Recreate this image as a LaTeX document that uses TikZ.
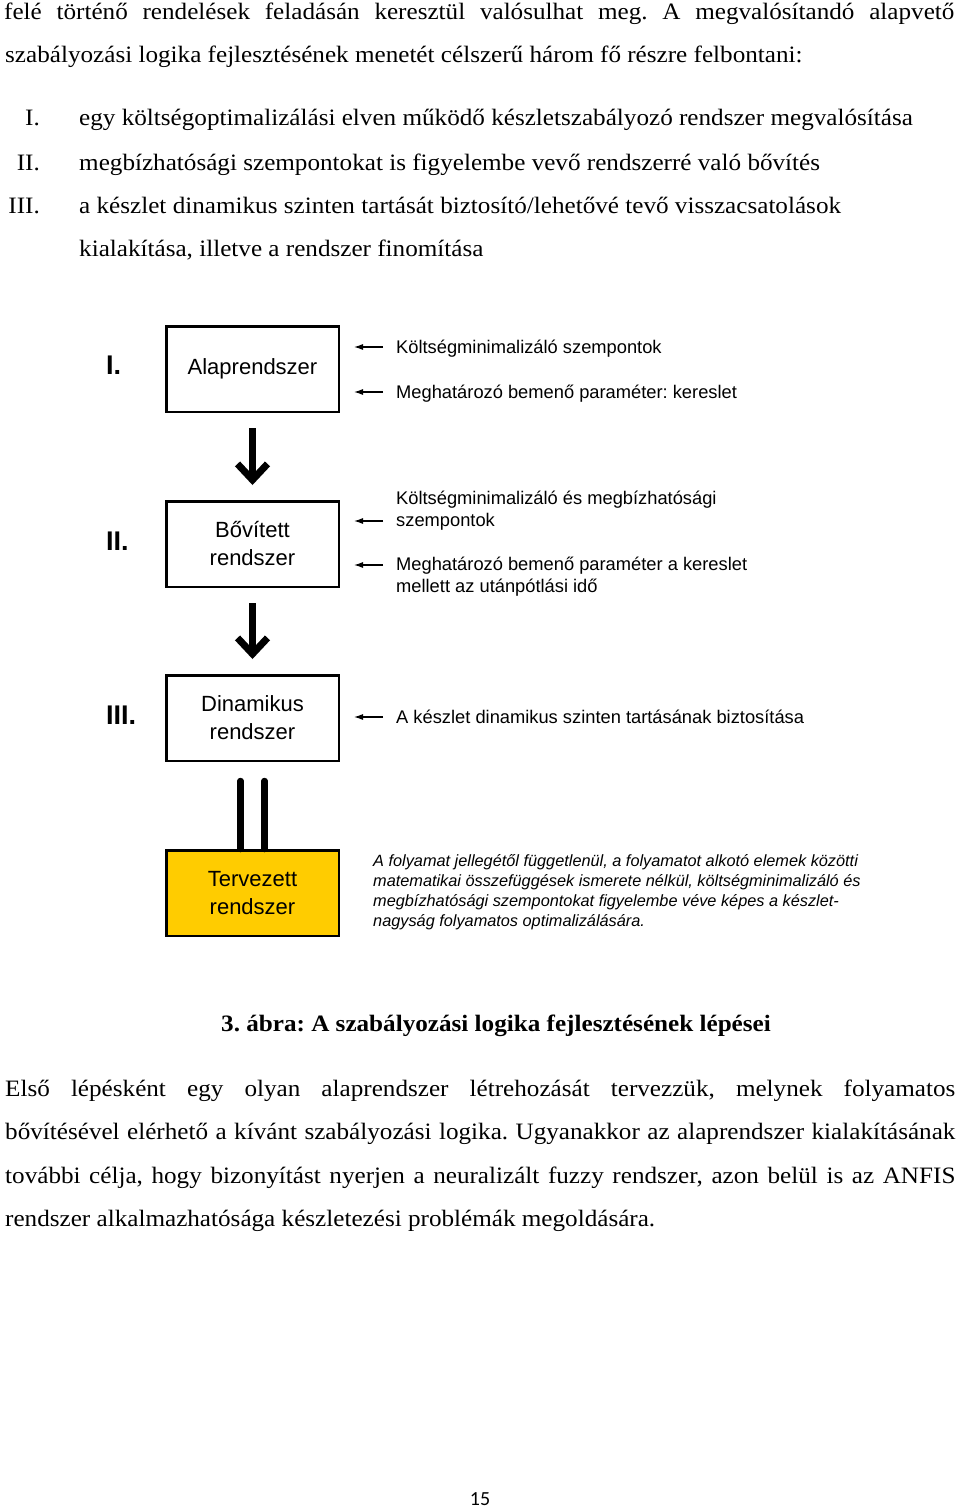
\documentclass[tikz,border=0pt]{standalone}
\usepackage{fontspec}
\setmainfont{Liberation Serif}
\newfontfamily\arialf{Liberation Sans}
\newfontfamily\calibrif{Carlito}
\usetikzlibrary{arrows.meta}
\definecolor{tyellow}{RGB}{255,204,0}
\newcommand{\hsc}[1]{\scalebox{1.07}[1]{#1}}
\newcommand{\jline}[1]{\scalebox{1.07}[1]{\makebox[888pt][s]{#1}}}
\frenchspacing
\begin{document}
\begin{tikzpicture}[x=1pt,y=-1pt,
  body/.style={anchor=base west, inner sep=0, font=\fontsize{23.5}{27}\selectfont},
  bodyr/.style={anchor=base east, inner sep=0, font=\fontsize{23.5}{27}\selectfont},
  box/.style={draw, line width=2.5pt, minimum width=172.5pt, minimum height=85.5pt, inner sep=0, align=center, font=\arialf\fontsize{22}{28}\selectfont},
  roman/.style={anchor=west, inner sep=0, font=\arialf\bfseries\fontsize{27}{30}\selectfont},
  lbl/.style={anchor=base west, inner sep=0, font=\arialf\fontsize{18.3}{22}\selectfont},
  itl/.style={anchor=base west, inner sep=0, font=\arialf\itshape\fontsize{16.3}{20}\selectfont},
  bigarrow/.style={line width=7pt, -{Straight Barb[length=16pt,width=30pt,line width=7pt]}, shorten <=15pt, shorten >=15pt},
  smallarrow/.style={line width=1.1pt, -{Latex[length=9pt,width=6pt]}},
  bar/.style={line width=6.5pt, line cap=round},
]
\useasboundingbox (0,0) rectangle (960,1509);
% top text
\node[body] (t1) at (4,20) {\jline{felé történő rendelések feladásán keresztül valósulhat meg. A megvalósítandó alapvető}};
\node[body] (t2) at (5,63) {\hsc{szabályozási logika fejlesztésének menetét célszerű három fő részre felbontani:}};
\node[bodyr] (n1) at (40,126) {\hsc{I.}};
\node[body] (l1) at (79,126) {\hsc{egy költségoptimalizálási elven működő készletszabályozó rendszer megvalósítása}};
\node[bodyr] (n2) at (40,170) {\hsc{II.}};
\node[body] (l2) at (79,170) {\hsc{megbízhatósági szempontokat is figyelembe vevő rendszerré való bővítés}};
\node[bodyr] (n3) at (40,213) {\hsc{III.}};
\node[body] (l3) at (79,213) {\hsc{a készlet dinamikus szinten tartását biztosító/lehetővé tevő visszacsatolások}};
\node[body] (l4) at (79,256) {\hsc{kialakítása, illetve a rendszer finomítása}};

% boxes
\node[box] (b1) at (252.5,369) {Alaprendszer};
\node[box] (b2) at (252.5,544) {Bővített\\rendszer};
\node[box] (b3) at (252.5,718) {Dinamikus\\rendszer};
\node[box, fill=tyellow] (b4) at (252.5,893) {Tervezett\\rendszer};

\node[roman] (r1) at (106,365) {I.};
\node[roman] (r2) at (106,541) {II.};
\node[roman] (r3) at (106,715) {III.};

\draw[bigarrow] (b1) -- (b2);
\draw[bigarrow] (b2) -- (b3);
\draw[bar] ([xshift=-12pt]b3.south) ++(0,19) coordinate (d1a) -- ([xshift=-12pt]b4.north) ++(0,-15) coordinate (d1b);
\draw[bar] ([xshift=12pt]b3.south) ++(0,19) coordinate (d2a) -- ([xshift=12pt]b4.north) ++(0,-15) coordinate (d2b);

% labels
\node[lbl] (k1) at (396,353) {Költségminimalizáló szempontok};
\node[lbl] (k2) at (396,398) {Meghatározó bemenő paraméter: kereslet};
\node[lbl] (k3) at (396,504) {Költségminimalizáló és megbízhatósági};
\node[lbl] (k3b) at (396,526) {szempontok};
\node[lbl] (k4) at (396,570) {Meghatározó bemenő paraméter a kereslet};
\node[lbl] (k4b) at (396,592) {mellett az utánpótlási idő};
\node[lbl] (k5) at (396,723) {A készlet dinamikus szinten tartásának biztosítása};

\coordinate (a1) at (383,347);
\coordinate (a2) at (383,392);
\coordinate (a3) at (383,521);
\coordinate (a4) at (383,565);
\coordinate (a5) at (383,717);
\draw[smallarrow] (a1) -- ([xshift=14pt]a1 -| b1.east);
\draw[smallarrow] (a2) -- ([xshift=14pt]a2 -| b1.east);
\draw[smallarrow] (a3) -- ([xshift=14pt]a3 -| b2.east);
\draw[smallarrow] (a4) -- ([xshift=14pt]a4 -| b2.east);
\draw[smallarrow] (a5) -- ([xshift=14pt]a5 -| b3.east);

\node[itl] (i1) at (373,866.5) {A folyamat jellegétől függetlenül, a folyamatot alkotó elemek közötti};
\node[itl] (i2) at (373,886.5) {matematikai összefüggések ismerete nélkül, költségminimalizáló és};
\node[itl] (i3) at (373,906.5) {megbízhatósági szempontokat figyelembe véve képes a készlet-};
\node[itl] (i4) at (373,926.5) {nagyság folyamatos optimalizálására.};

% caption
\node[anchor=base, inner sep=0, font=\bfseries\fontsize{23.5}{27}\selectfont] (cap) at (496,1031) {\hsc{3. ábra: A szabályozási logika fejlesztésének lépései}};

% paragraph
\node[body] (p1) at (5,1096) {\jline{Első lépésként egy olyan alaprendszer létrehozását tervezzük, melynek folyamatos}};
\node[body] (p2) at (5,1139) {\jline{bővítésével elérhető a kívánt szabályozási logika. Ugyanakkor az alaprendszer kialakításának}};
\node[body] (p3) at (5,1183) {\jline{további célja, hogy bizonyítást nyerjen a neuralizált fuzzy rendszer, azon belül is az ANFIS}};
\node[body] (p4) at (5,1226) {\hsc{rendszer alkalmazhatósága készletezési problémák megoldására.}};

\node[anchor=base, inner sep=0, font=\calibrif\fontsize{20}{22}\selectfont] (pg) at (480,1505) {15};
\end{tikzpicture}
\end{document}
